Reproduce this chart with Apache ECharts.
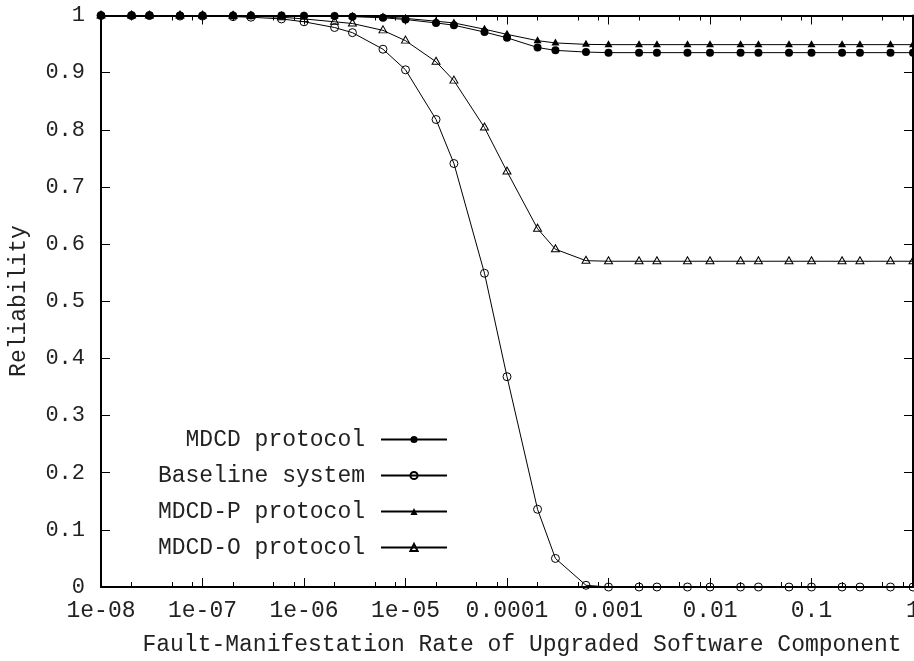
<!DOCTYPE html>
<html>
<head>
<meta charset="utf-8">
<script src="https://cdn.jsdelivr.net/npm/echarts@6.0.0/dist/echarts.min.js"></script>
<style>
  html, body { margin: 0; padding: 0; background: #fff; }
  #chart { width: 914px; height: 661px; }
</style>
</head>
<body>
<div id="chart"></div>
<script>
// fault-manifestation rates (x)
var rates = [1e-8, 2e-8, 3e-8, 6e-8, 1e-7, 2e-7, 3e-7, 6e-7,
  1e-6, 2e-6, 3e-6, 6e-6, 1e-5, 2e-5, 3e-5, 6e-5,
  1e-4, 2e-4, 3e-4, 6e-4, 1e-3, 2e-3, 3e-3, 6e-3,
  0.01, 0.02, 0.03, 0.06, 0.1, 0.2, 0.3, 0.6, 1];

// reliability values
var mdcd = [1, 1, 1, 1, 1, 1, 1, 1,
  0.9995, 0.999, 0.998, 0.996, 0.993, 0.987, 0.983, 0.971,
  0.961, 0.944, 0.939, 0.936, 0.935, 0.935, 0.935, 0.935,
  0.935, 0.935, 0.935, 0.935, 0.935, 0.935, 0.935, 0.935, 0.935];
var baseline = [1, 1, 1, 0.999, 0.999, 0.998, 0.997, 0.994,
  0.989, 0.979, 0.970, 0.941, 0.905, 0.818, 0.741, 0.549,
  0.368, 0.136, 0.050, 0.003, 0, 0, 0, 0,
  0, 0, 0, 0, 0, 0, 0, 0, 0];
var mdcdP = [1, 1, 1, 1, 1, 1, 1, 1,
  0.9997, 0.9993, 0.9987, 0.9975, 0.995, 0.990, 0.987, 0.976,
  0.967, 0.956, 0.952, 0.9495, 0.949, 0.949, 0.949, 0.949,
  0.949, 0.949, 0.949, 0.949, 0.949, 0.949, 0.949, 0.949, 0.949];
var mdcdO = [1, 1, 1, 1, 0.9999, 0.9995, 0.999, 0.997,
  0.994, 0.989, 0.986, 0.974, 0.956, 0.919, 0.886, 0.804,
  0.727, 0.627, 0.591, 0.571, 0.570, 0.570, 0.570, 0.570,
  0.570, 0.570, 0.570, 0.570, 0.570, 0.570, 0.570, 0.570, 0.570];

// tick positions and labels
var xMajorTicks = [1e-8, 1e-7, 1e-6, 1e-5, 1e-4, 1e-3, 0.01, 0.1, 1];
var xMajorLabels = ['1e-08', '1e-07', '1e-06', '1e-05', '0.0001', '0.001', '0.01', '0.1', '1'];
var xMinorTicks = [2e-8, 5e-8, 8e-8, 2e-7, 5e-7, 8e-7, 2e-6, 5e-6, 8e-6,
  2e-5, 5e-5, 8e-5, 2e-4, 5e-4, 8e-4, 2e-3, 5e-3, 8e-3,
  0.02, 0.05, 0.08, 0.2, 0.5, 0.8];

var font = 'Liberation Mono';
var textColor = '#222';

function pairs(ys) {
  return rates.map(function (x, i) {
    return [x, ys[i]];
  });
}

function xLabel(v) {
  for (var i = 0; i < xMajorTicks.length; i++) {
    if (Math.abs(Math.log10(v) - Math.log10(xMajorTicks[i])) < 1e-6) return xMajorLabels[i];
  }
  return '';
}

// one log x axis; major ones carry the frame line
function logAxis(position, ticks, len, major, labels) {
  return {
    type: 'log',
    logBase: 10,
    position: position,
    min: 1e-8,
    max: 1,
    axisLine: { show: major, onZero: false, lineStyle: { color: '#000', width: 2 } },
    axisTick: { show: true, inside: true, length: len, customValues: ticks, lineStyle: { color: '#000', width: 1 } },
    axisLabel: labels ? {
      show: true, customValues: ticks, formatter: xLabel, margin: 12,
      fontFamily: font, fontSize: 23, color: textColor
    } : { show: false },
    splitLine: { show: false },
    minorTick: { show: false },
    minorSplitLine: { show: false }
  };
}

function valAxis(position, labels) {
  return {
    type: 'value',
    position: position,
    min: 0,
    max: 1,
    interval: 0.1,
    axisLine: { show: true, onZero: false, lineStyle: { color: '#000', width: 2 } },
    axisTick: { show: true, inside: true, length: 9, lineStyle: { color: '#000', width: 1 } },
    axisLabel: labels ? {
      show: true, margin: 16, fontFamily: font, fontSize: 22, color: textColor
    } : { show: false },
    splitLine: { show: false }
  };
}

function lineSeries(name, ys, symbol, size, filled, offset) {
  return {
    name: name,
    type: 'line',
    xAxisIndex: 0,
    yAxisIndex: 0,
    data: pairs(ys),
    symbol: symbol,
    symbolSize: size,
    symbolOffset: offset || [0, 0],
    showSymbol: true,
    lineStyle: { color: '#000', width: 1 },
    itemStyle: filled
      ? { color: '#000', borderWidth: 0 }
      : { color: 'rgba(0,0,0,0)', borderColor: '#000', borderWidth: 1 },
    emphasis: { disabled: true },
    animation: false
  };
}

var chart = echarts.init(document.getElementById('chart'));

var option = {
  animation: false,
  backgroundColor: '#fff',
  grid: {
    left: 101,
    right: 1,
    top: 15.5,
    bottom: 74,
    containLabel: false,
    outerBoundsMode: 'none'
  },
  xAxis: [
    logAxis('bottom', xMajorTicks, 9, true, true),
    logAxis('bottom', xMinorTicks, 5, false, false),
    logAxis('top', xMajorTicks, 9, true, false),
    logAxis('top', xMinorTicks, 5, false, false)
  ],
  yAxis: [
    valAxis('left', true),
    valAxis('right', false)
  ],
  legend: {
    orient: 'vertical',
    align: 'right',
    right: 466,
    top: 428,
    padding: 0,
    itemWidth: 66,
    itemHeight: 9,
    itemGap: 13,
    selectedMode: false,
    textStyle: { fontFamily: font, fontSize: 23, color: textColor, padding: [0, 11, 0, 0] },
    data: ['MDCD protocol', 'Baseline system', 'MDCD-P protocol', 'MDCD-O protocol']
  },
  graphic: [
    {
      type: 'text',
      x: 18.5,
      y: 301,
      rotation: Math.PI / 2,
      style: {
        text: 'Reliability',
        fontFamily: font,
        fontSize: 23,
        fill: textColor,
        align: 'center',
        verticalAlign: 'middle'
      }
    },
    {
      type: 'text',
      x: 522,
      y: 645,
      style: {
        text: 'Fault-Manifestation Rate of Upgraded Software Component',
        fontFamily: font,
        fontSize: 23,
        fill: textColor,
        align: 'center',
        verticalAlign: 'middle'
      }
    }
  ],
  series: [
    lineSeries('Baseline system', baseline, 'circle', 8, false),
    lineSeries('MDCD-O protocol', mdcdO, 'triangle', [8, 7], false, [0, -1]),
    lineSeries('MDCD-P protocol', mdcdP, 'triangle', [8, 7], true, [0, -1]),
    lineSeries('MDCD protocol', mdcd, 'circle', 8, true)
  ]
};

chart.setOption(option);
</script>
</body>
</html>
